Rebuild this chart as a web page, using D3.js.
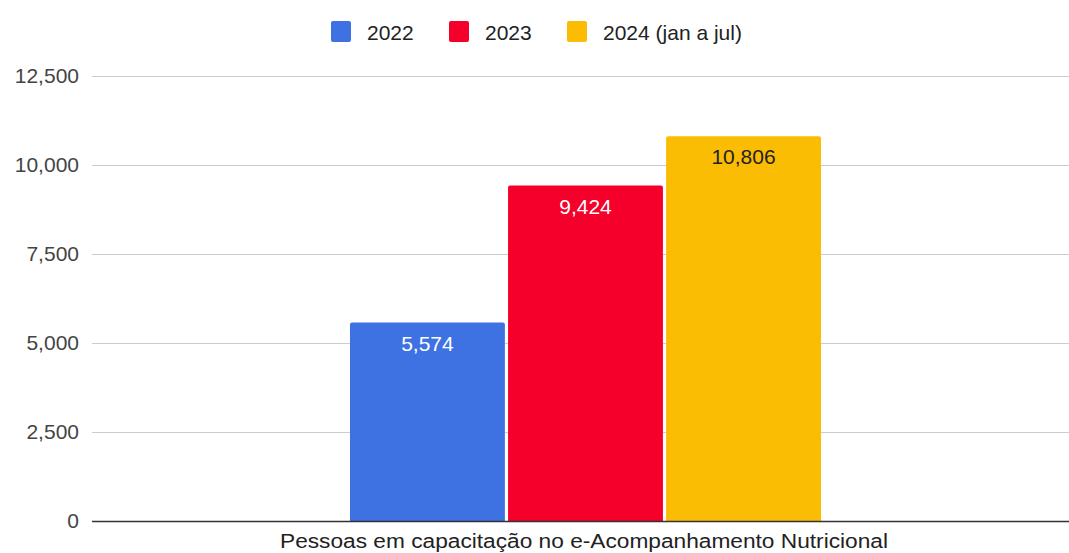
<!DOCTYPE html>
<html>
<head>
<meta charset="utf-8">
<script src="https://cdn.jsdelivr.net/npm/d3@7"></script>
<style>
  html, body { margin: 0; padding: 0; background: #fff; }
  svg { display: block; font-family: "Liberation Sans", Arial, sans-serif; }
</style>
</head>
<body>
<svg id="chart" width="1069" height="553"></svg>
<script>
// Data
const category = "Pessoas em capacitação no e-Acompanhamento Nutricional";
const seriesNames = ["2022", "2023", "2024 (jan a jul)"];
const seriesValues = [5574, 9424, 10806];
const seriesColors = ["#3e72e2", "#f5002b", "#fbbc04"];
const labelColors = ["#ffffff", "#ffffff", "#222222"];
const yTicks = [0, 2500, 5000, 7500, 10000, 12500];

const svg = d3.select("#chart");
const W = 1069;
const plotLeft = 92;

const fmt = v => d3.format(",")(v);

const y = d3.scaleLinear().domain([0, 12500]).range([521, 76]);

// Inner band for the three series within the single category group
const x1 = d3.scaleBand().domain(seriesNames).range([350, 821]).paddingInner(0.02);

// Tick labels
const yAxis = d3.axisLeft(y).tickValues(yTicks).tickSize(0).tickFormat(fmt);
const gy = svg.append("g").attr("transform", `translate(79,0)`).call(yAxis);
gy.select(".domain").remove();
gy.selectAll("text").attr("font-size", 21).attr("fill", "#444").attr("x", 0)
  .attr("font-family", "'Liberation Sans', Arial, sans-serif");

// Gridlines
svg.append("g").selectAll("line").data(yTicks.filter(d => d > 0)).join("line")
  .attr("x1", plotLeft).attr("x2", W)
  .attr("y1", d => Math.round(y(d)) + 0.5).attr("y2", d => Math.round(y(d)) + 0.5)
  .attr("stroke", "#cccccc").attr("stroke-width", 1);

// Bars with value labels
const bars = svg.append("g");
seriesNames.forEach((name, i) => {
  const v = seriesValues[i];
  const bx = x1(name), bw = x1.bandwidth();
  const top = y(v), bottom = y(0);
  bars.append("path")
    .attr("d", `M${bx},${bottom} V${top + 2} Q${bx},${top} ${bx + 2},${top} H${bx + bw - 2} Q${bx + bw},${top} ${bx + bw},${top + 2} V${bottom} Z`)
    .attr("fill", seriesColors[i]);
  svg.append("text")
    .attr("x", bx + bw / 2).attr("y", top + 28)
    .attr("text-anchor", "middle").attr("font-size", 21)
    .attr("fill", labelColors[i])
    .text(fmt(v));
});

// Baseline
svg.append("line")
  .attr("x1", plotLeft).attr("x2", W)
  .attr("y1", Math.round(y(0)) + 0.5).attr("y2", Math.round(y(0)) + 0.5)
  .attr("stroke", "#333").attr("stroke-width", 1.5);

// Category label
svg.append("text")
  .attr("x", 584).attr("y", 548)
  .attr("text-anchor", "middle").attr("font-size", 20).attr("fill", "#222")
  .attr("textLength", 608).attr("lengthAdjust", "spacingAndGlyphs")
  .text(category);

// Legend
const legendX = [331, 449, 567];
const lg = svg.append("g");
seriesNames.forEach((name, i) => {
  lg.append("rect").attr("x", legendX[i]).attr("y", 21).attr("width", 20).attr("height", 21)
    .attr("rx", 2).attr("fill", seriesColors[i]);
  lg.append("text").attr("x", legendX[i] + 36).attr("y", 40)
    .attr("font-size", 21).attr("fill", "#222").text(name);
});
</script>
</body>
</html>
